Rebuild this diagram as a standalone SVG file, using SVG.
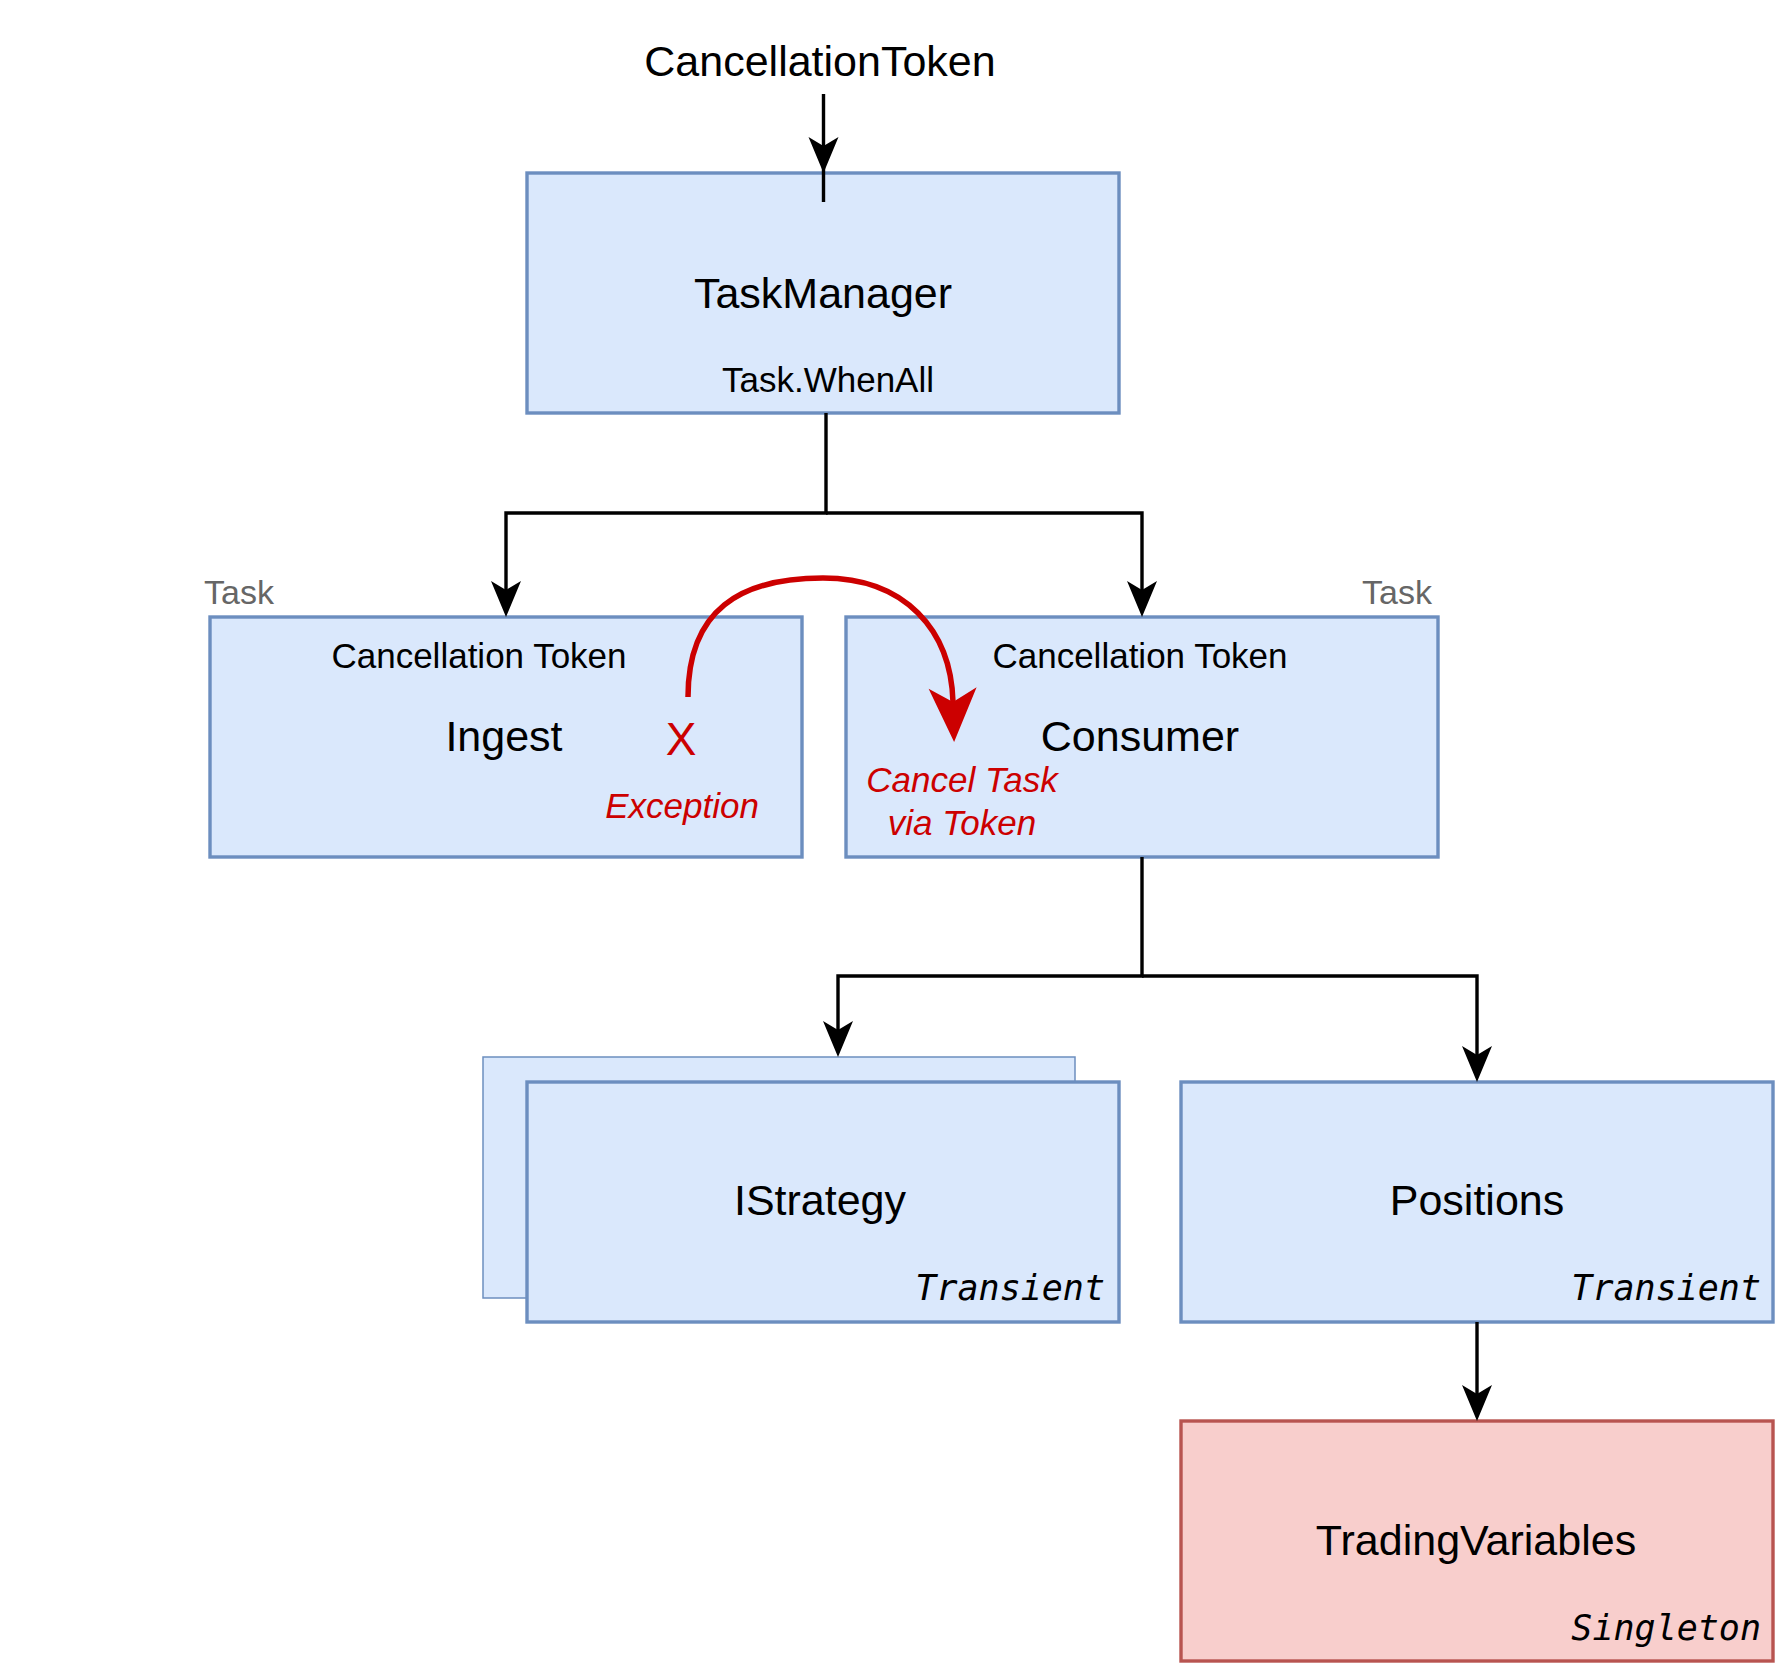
<svg xmlns="http://www.w3.org/2000/svg" width="1776" height="1664" viewBox="0 0 1776 1664">
<style>
.box{fill:#dae8fc;stroke:#6c8ebf;stroke-width:3.4}
.red{fill:#f8cecc;stroke:#b85450;stroke-width:3.4}
.t{font-family:"Liberation Sans",Arial,Helvetica,sans-serif;fill:#000}
.big{font-size:43px}
.mid{font-size:35px}
.task{font-size:34px;fill:#666}
.rx{font-size:46px;fill:#CC0000}
.rt{fill:#CC0000;font-style:italic;font-size:35px}
.mono{font-family:"DejaVu Sans Mono","Liberation Mono",monospace;font-style:italic;font-size:35px;fill:#000}
.edge{fill:none;stroke:#000;stroke-width:3.4}
.redge{fill:none;stroke:#CC0000;stroke-width:5.5}
.head{fill:#000}
</style>
<defs>
<marker id="arr" viewBox="-40 -20 42 40" refX="-20" refY="0" markerWidth="42" markerHeight="40" markerUnits="userSpaceOnUse" orient="auto">
<path d="M0,0 L-36,-15 L-27,0 L-36,15 Z" fill="#000"/>
</marker>
<marker id="rarr" viewBox="-58 -28 60 56" refX="-40" refY="0" markerWidth="60" markerHeight="56" markerUnits="userSpaceOnUse" orient="auto">
<path d="M0,0 L-54,-24 L-40,0 L-54,24 Z" fill="#CC0000"/>
</marker>
</defs>

<text class="t big" x="820" y="76" text-anchor="middle">CancellationToken</text>

<g id="taskmanager">
<rect class="box" x="527" y="173" width="592" height="240"/>
<text class="t big" x="823" y="308" text-anchor="middle">TaskManager</text>
<text class="t mid" x="828" y="392" text-anchor="middle">Task.WhenAll</text>
</g>

<g id="ingest">
<text class="t task" x="204" y="604">Task</text>
<rect class="box" x="210" y="617" width="592" height="240"/>
<text class="t mid" x="479" y="668" text-anchor="middle">Cancellation Token</text>
<text class="t big" x="504" y="751" text-anchor="middle">Ingest</text>
<text class="t rx" x="681" y="755" text-anchor="middle">X</text>
<text class="t rt" x="682" y="818" text-anchor="middle">Exception</text>
</g>

<g id="consumer">
<text class="t task" x="1432" y="604" text-anchor="end">Task</text>
<rect class="box" x="846" y="617" width="592" height="240"/>
<text class="t mid" x="1140" y="668" text-anchor="middle">Cancellation Token</text>
<text class="t big" x="1140" y="751" text-anchor="middle">Consumer</text>
<text class="t rt" x="962" y="792" text-anchor="middle">Cancel Task</text>
<text class="t rt" x="962" y="835" text-anchor="middle">via Token</text>
</g>

<g id="istrategy">
<rect class="box" x="483" y="1057" width="592" height="241" style="stroke-width:1.5"/>
<rect class="box" x="527" y="1082" width="592" height="240"/>
<text class="t big" x="820" y="1215" text-anchor="middle">IStrategy</text>
<text class="mono" x="1105" y="1300" text-anchor="end">Transient</text>
</g>

<g id="positions">
<rect class="box" x="1181" y="1082" width="592" height="240"/>
<text class="t big" x="1477" y="1215" text-anchor="middle">Positions</text>
<text class="mono" x="1761" y="1300" text-anchor="end">Transient</text>
</g>

<g id="tradingvariables">
<rect class="red" x="1181" y="1421" width="592" height="240"/>
<text class="t big" x="1476" y="1555" text-anchor="middle">TradingVariables</text>
<text class="mono" x="1761" y="1640" text-anchor="end">Singleton</text>
</g>

<g id="connectors">
<path class="edge" d="M823.5,94 L823.5,202"/>
<path class="head" d="M823.5,173 L808.5,137 L823.5,146 L838.5,137 Z"/>
<path class="edge" d="M826,413 L826,513 L506,513 L506,597" marker-end="url(#arr)"/>
<path class="edge" d="M826,513 L1142,513 L1142,597" marker-end="url(#arr)"/>
<path class="edge" d="M1142,857 L1142,976 L838,976 L838,1037" marker-end="url(#arr)"/>
<path class="edge" d="M1142,976 L1477,976 L1477,1062" marker-end="url(#arr)"/>
<path class="edge" d="M1477,1322 L1477,1401" marker-end="url(#arr)"/>
<path class="redge" d="M688,697 C688,610 740,578 823,578 C905,578 951,630 953,702" marker-end="url(#rarr)"/>
</g>
</svg>
